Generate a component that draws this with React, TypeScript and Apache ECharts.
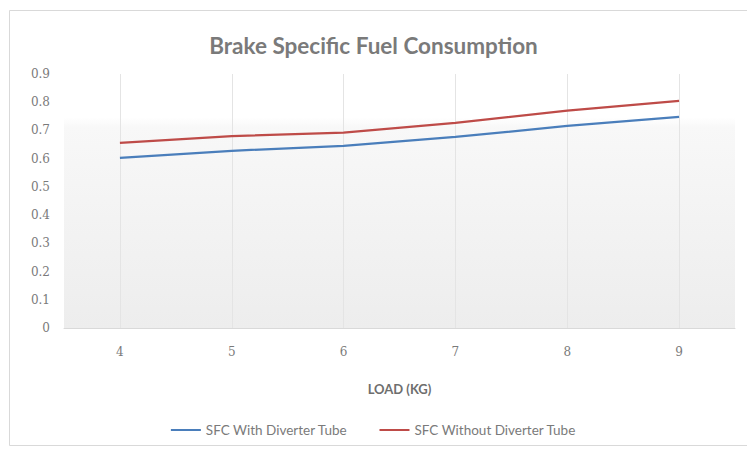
import React, { useEffect, useRef } from "react";
import * as echarts from "echarts";

const categories = ["4", "5", "6", "7", "8", "9"];
const withTube = [0.603, 0.628, 0.645, 0.677, 0.716, 0.748];
const withoutTube = [0.656, 0.68, 0.692, 0.727, 0.77, 0.805];
const seriesNames = ["SFC With Diverter Tube", "SFC Without Diverter Tube"];
const titleText = "Brake Specific Fuel Consumption";
const xAxisTitle = "LOAD (KG)";

export default function App() {
  const ref = useRef<HTMLDivElement>(null);
  useEffect(() => {
    if (!ref.current) return;
    const chart = echarts.init(ref.current, null, { renderer: "svg" });
    const gridBg = new echarts.graphic.LinearGradient(0, 0, 0, 1, [
      { offset: 0, color: "#ffffff" },
      { offset: 0.17, color: "#ffffff" },
      { offset: 0.21, color: "#f8f8f8" },
      { offset: 1, color: "#ededed" },
    ]);
    chart.setOption({
      animation: false,
      backgroundColor: "#ffffff",
      title: {
        text: titleText,
        left: "center",
        top: 29,
        textStyle: {
          fontFamily: "Lato",
          fontSize: 22.5,
          fontWeight: "bold",
          color: "#7a7a7a",
        },
      },
      graphic: [
        {
          type: "rect",
          shape: { x: 9.5, y: 10.5, width: 745, height: 435 },
          style: { fill: "none", stroke: "#d9d9d9", lineWidth: 1 },
          silent: true,
          z: -1,
        },
      ],
      grid: {
        left: 64,
        right: 12,
        top: 74,
        bottom: 126,
        show: true,
        borderWidth: 0,
        backgroundColor: gridBg,
      },
      legend: {
        bottom: 12,
        left: "center",
        icon: "rect",
        itemWidth: 30,
        itemHeight: 2,
        itemGap: 32,
        textStyle: { fontFamily: "Lato", fontSize: 13.5, color: "#7a7a7a" },
        data: seriesNames,
      },
      xAxis: {
        type: "category",
        data: categories,
        boundaryGap: true,
        name: xAxisTitle,
        nameLocation: "middle",
        nameGap: 54,
        nameTextStyle: {
          fontFamily: "Lato",
          fontSize: 13,
          fontWeight: "bold",
          color: "#6e6e6e",
        },
        axisLine: { show: true, lineStyle: { color: "#d9d9d9", width: 1 } },
        axisTick: { show: false },
        axisLabel: {
          margin: 18,
          fontFamily: "DejaVu Serif",
          fontSize: 12,
          color: "#7a7a7a",
        },
        splitLine: { show: false },
      },
      yAxis: {
        type: "value",
        min: 0,
        max: 0.9,
        interval: 0.1,
        axisLine: { show: false },
        axisTick: { show: false },
        splitLine: { show: false },
        axisLabel: {
          margin: 14,
          fontFamily: "DejaVu Serif",
          fontSize: 12,
          color: "#7a7a7a",
          formatter: (v: number) => String(Math.round(v * 10) / 10),
        },
      },
      series: [
        {
          name: seriesNames[0],
          type: "line",
          data: withTube,
          symbol: "none",
          lineStyle: { color: "#4a7ebb", width: 2.25 },
          itemStyle: { color: "#4a7ebb" },
          markLine: {
            silent: true,
            symbol: "none",
            label: { show: false },
            lineStyle: { color: "#e4e4e4", width: 1, type: "solid" },
            data: categories.map((c) => ({ xAxis: c })),
            z: 1,
          },
          z: 3,
        },
        {
          name: seriesNames[1],
          type: "line",
          data: withoutTube,
          symbol: "none",
          lineStyle: { color: "#be4b48", width: 2.25 },
          itemStyle: { color: "#be4b48" },
          z: 3,
        },
      ],
    });
    return () => chart.dispose();
  }, []);
  return (
    <div
      ref={ref}
      style={{ position: "absolute", left: 0, top: 0, width: 747, height: 454 }}
    />
  );
}
